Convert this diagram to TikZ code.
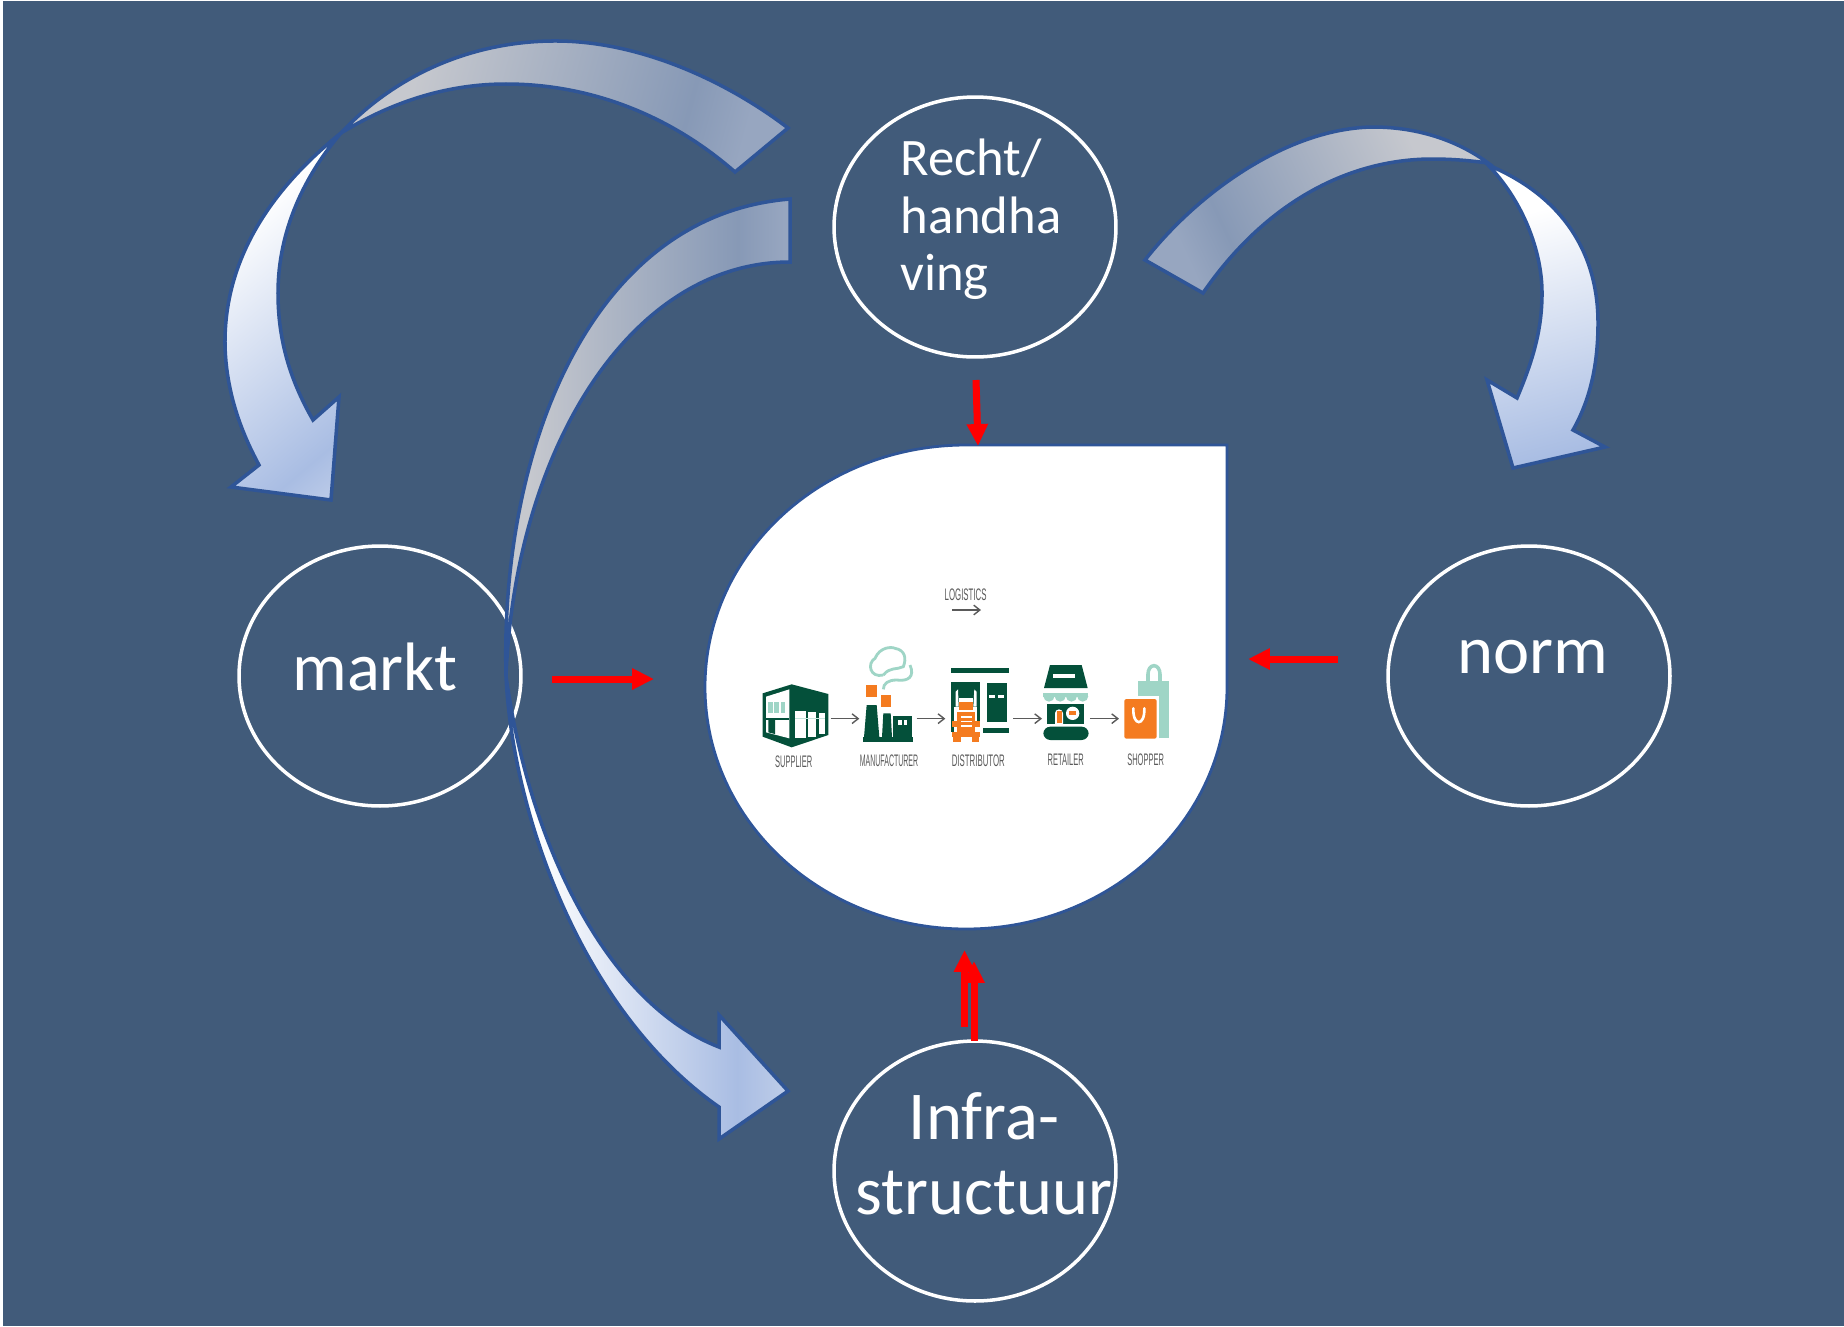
\documentclass[tikz,border=0pt]{standalone}
\usepackage{fontspec}
\setmainfont{Carlito}
\newfontfamily\logofont{Liberation Sans}
\usetikzlibrary{arrows.meta,shapes.geometric}
\definecolor{bgblue}{HTML}{415B7A}
\definecolor{edgeblue}{HTML}{2F5597}
\definecolor{headblue}{HTML}{A9BDE3}
\definecolor{headlight}{HTML}{BCCBE8}
\definecolor{tailgrey}{HTML}{C6C8CE}
\definecolor{tailblue}{HTML}{8799B6}
\definecolor{taillight}{HTML}{97A6C0}
\definecolor{logogreen}{HTML}{04503A}
\definecolor{logomint}{HTML}{9FD5C6}
\definecolor{logoorange}{HTML}{F47B20}
\definecolor{logotext}{HTML}{5A5A5A}
\pgfdeclarehorizontalshading{headfade}{100bp}{color(0bp)=(white); color(30bp)=(white); color(66bp)=(headblue); color(74bp)=(headlight); color(100bp)=(headlight)}
\pgfdeclarehorizontalshading{headslant}{100bp}{color(0bp)=(white); color(30bp)=(white); color(76bp)=(headblue); color(84bp)=(headlight); color(100bp)=(headlight)}
\pgfdeclarehorizontalshading{tailfade}{100bp}{color(0bp)=(tailgrey); color(30bp)=(tailgrey); color(66bp)=(tailblue); color(74bp)=(taillight); color(100bp)=(taillight)}
\tikzset{
    circlenode/.style={ellipse, draw=white, line width=2pt, minimum width=5.64cm, minimum height=5.2cm, inner sep=0pt},
    labeltext/.style={text=white, font=\fontsize{39}{39}\selectfont, inner sep=0pt},
    rechttext/.style={labeltext, anchor=base west, font=\fontsize{30}{30}\selectfont},
    curved/.style={draw=edgeblue, line width=2pt, line join=miter},
    redarrow/.style={draw=red, line width=4pt, -{Triangle[width=11.5pt,length=12.5pt]}},
    logoarrow/.style={draw=logotext, line width=0.8pt, -{Straight Barb[length=3.5pt,width=5.5pt]}},
    logolabel/.style={text=logotext, font=\logofont\fontsize{9.5}{9.5}\selectfont, inner sep=0pt},
}
\begin{document}
\begin{tikzpicture}[x=0.02cm,y=-0.02cm]
    \useasboundingbox (0,0) rectangle (1844,1326);
    \fill[white] (0,0) rectangle (1844,1326);
    \fill[bgblue] (3,1) rectangle (1844,1326);

    % the four circles
    \node[circlenode] (recht) at (975,227) {};
    \node[circlenode] (markt) at (380,676) {};
    \node[circlenode] (norm) at (1529,676) {};
    \node[circlenode] (infra) at (975,1171) {};
    \node[rechttext] (rechtA) at (900,175) {Recht/};
    \node[rechttext] (rechtB) at (900,233) {handha};
    \node[rechttext] (rechtC) at (900,290) {ving};
    \node[labeltext, anchor=base] (marktL) at (375,690) {markt};
    \node[labeltext, anchor=base] (normL) at (1533,673) {norm};
    \node[labeltext, anchor=base] (infraA) at (984,1139) {Infra-};
    \node[labeltext, anchor=base] (infraB) at (984,1214) {structuur};

    % centre drop
    \draw[fill=white, draw=edgeblue, line width=1.6pt] (966,445) -- (1227,445) -- (1227,687)
        arc[start angle=0, end angle=270, x radius=261, y radius=242] -- cycle;

    % curved arrows, tail then head
    \path[curved, shading=tailfade, shading angle=-15] (341,133) .. controls (400,70) and (480,40) .. (559,41)
        .. controls (640,42) and (725,80) .. (788,128) -- (735,172)
        .. controls (670,115) and (590,84) .. (506,84) .. controls (450,84) and (395,100) .. (341,133) -- cycle;
    \path[curved, shading=headslant, shading angle=-50] (341,133) .. controls (270,190) and (224,260) .. (225,345)
        .. controls (226,390) and (240,430) .. (259,465) -- (231,487) -- (331,500) -- (339,397) -- (313,420)
        .. controls (290,380) and (278,340) .. (278,293) .. controls (278,230) and (305,175) .. (341,133) -- cycle;

    \path[curved, shading=tailfade, shading angle=0] (506,676) .. controls (500,450) and (590,215) .. (790,199)
        -- (790,262) .. controls (630,262) and (515,450) .. (506,676) -- cycle;
    \path[curved, shading=headfade, shading angle=0] (506,676) .. controls (512,810) and (580,1010) .. (719,1107)
        -- (719,1139) -- (788,1091) -- (719,1015) -- (719,1047)
        .. controls (610,1005) and (530,850) .. (506,676) -- cycle;

    \path[curved, shading=tailfade, shading angle=205] (1145,260) .. controls (1200,190) and (1290,128) .. (1373,127)
        .. controls (1420,127) and (1460,142) .. (1488,163) .. controls (1465,160) and (1450,159) .. (1430,159)
        .. controls (1340,160) and (1260,210) .. (1203,293) -- cycle;
    \path[curved, shading=headslant, shading angle=-75] (1488,165) .. controls (1560,195) and (1598,250) .. (1598,323)
        .. controls (1598,365) and (1590,400) .. (1573,430) -- (1605,447) -- (1513,468) -- (1487,380) -- (1517,398)
        .. controls (1533,360) and (1542,330) .. (1542,293) .. controls (1542,250) and (1522,200) .. (1488,165) -- cycle;

    % red arrows
    \coordinate (rechtS) at (976,380);
    \coordinate (dropN) at (978,446);
    \coordinate (marktS) at (552,679);
    \coordinate (dropW) at (654,679);
    \coordinate (normS) at (1338,659);
    \coordinate (dropE) at (1248,659);
    \coordinate (infraS) at (974,1041);
    \coordinate (infraT) at (964.5,1027);
    \coordinate (dropS) at (974,961);
    \coordinate (dropT) at (964.5,950);
    \draw[redarrow] (rechtS) -- (dropN);
    \draw[redarrow] (marktS) -- (dropW);
    \draw[redarrow] (normS) -- (dropE);
    \draw[redarrow] (infraT) -- (dropT);
    \draw[redarrow] (infraS) -- (dropS);

    % logistics chain
    \begin{scope}[shift={(720,550)},x=0.02cm/3,y=-0.02cm/3]
        \node[logolabel, xscale=0.47] (logistics) at (737,133) {LOGISTICS};
        \node[logolabel, xscale=0.45] (supplier) at (221,636) {SUPPLIER};
        \node[logolabel, xscale=0.42] (manufacturer) at (507,632) {MANUFACTURER};
        \node[logolabel, xscale=0.47] (distributor) at (775,632) {DISTRIBUTOR};
        \node[logolabel, xscale=0.45] (retailer) at (1037,628) {RETAILER};
        \node[logolabel, xscale=0.45] (shopper) at (1277,628) {SHOPPER};
        \coordinate (l1) at (697,180); \coordinate (l2) at (783,180);
        \draw[logoarrow] (l1) -- (l2);
        \foreach \xa/\xb in {332/418,590/676,880/966,1110/1197}
            \draw[logoarrow] (\xa,506) -- (\xb,506);

        % supplier
        \fill[logogreen] (128,430) -- (215,403) -- (325,432) -- (325,555) -- (215,592) -- (128,560) -- cycle;
        \fill[white] (138,440) -- (208,418) -- (208,565) -- (138,547) -- cycle;
        \fill[logogreen] (145,510) -- (165,508) -- (165,552) -- (145,547) -- cycle;
        \fill[logogreen] (138,505) rectangle (208,510);
        \foreach \xa in {145,163,182}
            \fill[logomint] (\xa,455) rectangle ++(13,34);
        \fill[white] (226,482) rectangle (258,565);
        \fill[white] (265,487) rectangle (288,560);
        \fill[white] (296,490) rectangle (315,552);
        \fill[logomint!60] (226,504) rectangle (315,508);

        % manufacturer
        \draw[logomint, line width=1.6pt] (490,375) .. controls (450,385) and (440,340) .. (465,325)
            .. controls (480,290) and (515,290) .. (525,295) .. controls (555,300) and (560,325) .. (550,350)
            .. controls (530,360) and (510,350) .. (490,375);
        \draw[logomint, line width=1.6pt] (490,418) .. controls (490,400) and (505,390) .. (530,390)
            .. controls (565,395) and (585,380) .. (570,345);
        \fill[logoorange] (438,405) rectangle (472,440);
        \fill[logoorange] (482,435) rectangle (513,470);
        \fill[logogreen] (440,465) -- (470,465) -- (478,562) -- (432,562) -- cycle;
        \fill[logogreen] (490,490) -- (512,490) -- (516,562) -- (486,562) -- cycle;
        \fill[logogreen] (518,497) rectangle (575,562);
        \fill[logogreen] (428,560) rectangle (580,575);
        \fill[white] (533,510) rectangle (545,525);
        \fill[white] (552,510) rectangle (562,525);

        % distributor
        \fill[logogreen] (693,353) rectangle (867,370);
        \fill[logogreen] (692,397) rectangle (780,470);
        \fill[logogreen] (692,470) rectangle (702,545);
        \fill[logogreen] (770,470) rectangle (780,520);
        \fill[white] (707,425) -- (714,418) -- (716,470) -- (760,470) -- (763,418) -- (770,425) -- (770,470) -- (707,470) -- cycle;
        \fill[white] (718,445) rectangle (760,460);
        \fill[logogreen] (800,400) rectangle (862,515);
        \fill[white] (808,435) rectangle (825,443);
        \fill[white] (835,435) rectangle (852,443);
        \fill[logogreen] (790,533) rectangle (867,548);
        \fill[logoorange] (718,455) rectangle (760,480);
        \fill[logoorange] (712,485) rectangle (766,545);
        \foreach \ya in {498,512,526}
            \fill[white] (722,\ya) rectangle ++(34,5);
        \fill[logoorange] (697,545) rectangle (780,562);
        \fill[logoorange] (697,514) rectangle (712,530);
        \fill[logoorange] (766,514) rectangle (780,530);
        \fill[logoorange] (700,560) rectangle (722,575);
        \fill[logoorange] (755,560) rectangle (777,575);

        % retailer
        \fill[logogreen] (990,345) -- (1085,345) -- (1103,414) -- (972,414) -- cycle;
        \fill[white] (1000,372) rectangle (1065,385);
        \fill[logogreen] (982,462) rectangle (1092,522);
        \fill[white] (1005,522) -- (1005,490) arc[start angle=180, end angle=360, x radius=12, y radius=12] -- (1029,522) -- cycle;
        \fill[logoorange] (1010,482) rectangle (1025,518);
        \fill[white] (1058,490) circle[radius=20];
        \fill[logoorange] (1048,484) rectangle (1068,494);
        \fill[white] (970,440) rectangle (1105,462);
        \fill[logomint] (970,430) rectangle (1105,440);
        \foreach \xa in {970,1003.7,1037.5,1071.2}
            \fill[logomint] (\xa,438) arc[start angle=180, end angle=0, x radius=16.9, y radius=17] -- cycle;
        \fill[logogreen, rounded corners=4pt] (970,530) rectangle (1106,570);

        % shopper
        \draw[logomint, line width=2pt] (1284,400) -- (1284,372) arc[start angle=180, end angle=360, x radius=18, y radius=25] -- (1320,400);
        \fill[logomint] (1253,393) rectangle (1347,565);
        \fill[white] (1205,438) rectangle (1316,572);
        \fill[logomint] (1316,438) rectangle (1347,565);
        \fill[logoorange, rounded corners=1.2pt] (1213,447) rectangle (1310,566);
        \draw[white, line width=1.5pt, line cap=round] (1240,475) .. controls (1238,530) and (1275,530) .. (1273,475);
    \end{scope}
\end{tikzpicture}
\end{document}
